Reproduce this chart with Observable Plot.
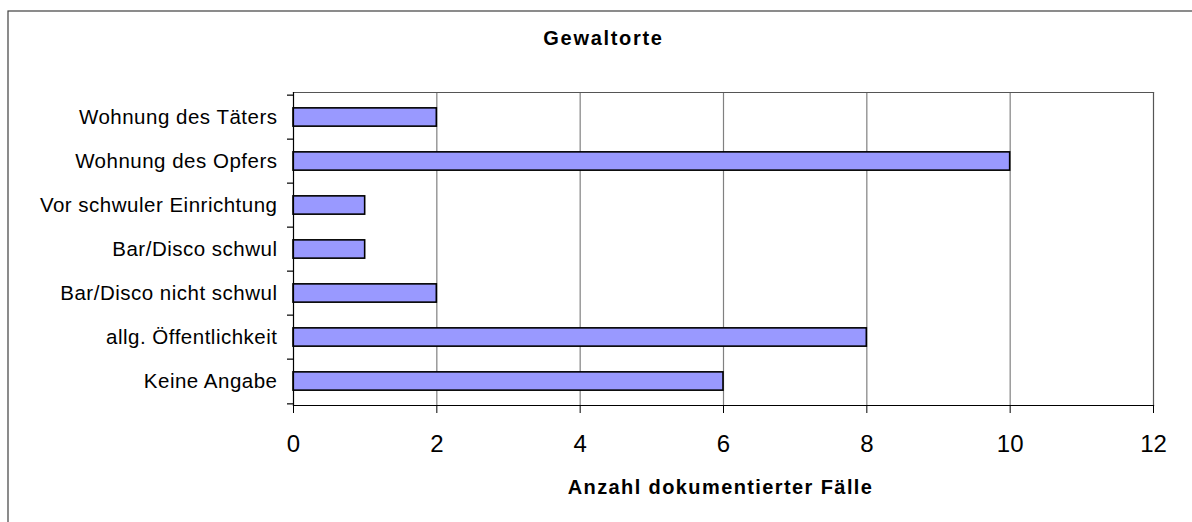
<!DOCTYPE html>
<html>
<head>
<meta charset="utf-8">
<script src="https://cdn.jsdelivr.net/npm/d3@7"></script>
<script src="https://cdn.jsdelivr.net/npm/@observablehq/plot@0.6"></script>
<style>
  html, body { margin: 0; padding: 0; background: #fff; overflow: hidden; }
  #chart svg { overflow: visible; }
</style>
</head>
<body>
<div id="chart"></div>
<script>
const categories = [
  "Wohnung des Täters",
  "Wohnung des Opfers",
  "Vor schwuler Einrichtung",
  "Bar/Disco schwul",
  "Bar/Disco nicht schwul",
  "allg. Öffentlichkeit",
  "Keine Angabe"
];
const values = [2, 10, 1, 1, 2, 8, 6];
const xTicks = [0, 2, 4, 6, 8, 10, 12];
const titleText = "Gewaltorte";
const xLabelText = "Anzahl dokumentierter Fälle";

const data = categories.map((c, i) => ({category: c, value: values[i]}));

const W = 1192, H = 522;
const mL = 293, mR = 39, mT = 92, mB = 117;
const step = (H - mT - mB) / categories.length;
const font = "'Liberation Sans', Arial, sans-serif";

const chart = Plot.plot({
  width: W,
  height: H,
  marginLeft: mL,
  marginRight: mR,
  marginTop: mT,
  marginBottom: mB,
  style: {fontFamily: font, background: "transparent", color: "#000"},
  x: {domain: [0, 12], ticks: xTicks, label: null},
  y: {domain: categories, padding: 0, label: null},
  marks: [
    // outer chart border (top and left visible)
    Plot.frame({stroke: "#404040", strokeWidth: 1.2, insetLeft: -(mL - 7.5), insetTop: -(mT - 10.5), insetRight: -60, insetBottom: -140}),
    // gridlines
    Plot.ruleX(xTicks.slice(1, -1), {stroke: "#808080", strokeWidth: 1.2}),
    // plot area edges
    Plot.frame({anchor: "top", stroke: "#555", strokeWidth: 1.2}),
    Plot.frame({anchor: "right", stroke: "#555", strokeWidth: 1.2}),
    // bars
    Plot.barX(data, {
      x: "value", y: "category",
      fill: "#9999ff", stroke: "#000", strokeWidth: 1.6,
      insetTop: (step - 19) / 2, insetBottom: (step - 19) / 2
    }),
    // axis lines
    Plot.frame({anchor: "left", stroke: "#000", strokeWidth: 1.2}),
    Plot.frame({anchor: "bottom", stroke: "#000", strokeWidth: 1.2}),
    // y band-boundary ticks
    Plot.ruleY(categories, {y: d => d, x1: 0, x2: 0, insetLeft: -6, dy: -step / 2, stroke: "#000", strokeWidth: 1.2}),
    Plot.ruleY(categories.slice(-1), {y: d => d, x1: 0, x2: 0, insetLeft: -6, dy: step / 2, stroke: "#000", strokeWidth: 1.2}),
    // axes
    Plot.axisY({tickSize: 0, tickPadding: 16, fontSize: 20.5, label: null}),
    Plot.axisX({ticks: xTicks, tickSize: 8, tickPadding: 21, fontSize: 24, label: null, stroke: "#000"}),
    // title
    Plot.text([titleText], {frameAnchor: "top", dx: -120, dy: -54, lineAnchor: "middle", fontSize: 20, fontWeight: "bold", fill: "#000", text: d => d}),
    // x axis label
    Plot.text([xLabelText], {frameAnchor: "bottom", dx: -3, dy: 82, lineAnchor: "middle", fontSize: 20, fontWeight: "bold", fill: "#000", text: d => d})
  ]
});

// Mimic the wide letter spacing of the original rendering
const svg = d3.select(chart);
svg.selectAll("text").each(function() {
  const t = d3.select(this);
  const s = t.text();
  if (s === titleText) t.style("letter-spacing", "1.7px");
  else if (s === xLabelText) t.style("letter-spacing", "1.4px");
  else if (categories.includes(s)) t.style("letter-spacing", "0.5px");
});

document.getElementById("chart").appendChild(chart);
</script>
</body>
</html>
